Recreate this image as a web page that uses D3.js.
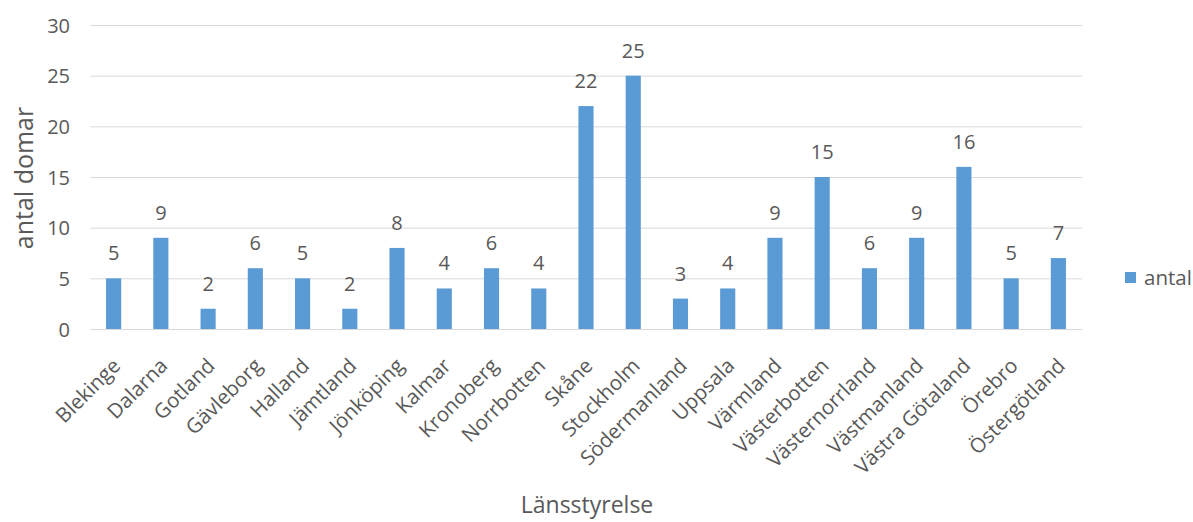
<!DOCTYPE html>
<html><head><meta charset="utf-8">
<script src="https://cdn.jsdelivr.net/npm/d3@7"></script>
<style>
html,body{margin:0;padding:0;background:#fff;}
text{font-family:"Open Sans",sans-serif;fill:#595959;}
</style></head>
<body><svg id="c" width="1193" height="522"></svg>
<script>
const categories = ["Blekinge","Dalarna","Gotland","Gävleborg","Halland","Jämtland","Jönköping","Kalmar","Kronoberg","Norrbotten","Skåne","Stockholm","Södermanland","Uppsala","Värmland","Västerbotten","Västernorrland","Västmanland","Västra Götaland","Örebro","Östergötland"];
const antal = [5,9,2,6,5,2,8,4,6,4,22,25,3,4,9,15,6,9,16,5,7];
const yTicks = [0,5,10,15,20,25,30];
const seriesName = "antal";
const yTitle = "antal domar";
const xTitle = "Länsstyrelse";

const svg = d3.select("#c");
const L = 90, R = 1082, T = 25, B = 329;
const x = d3.scaleBand().domain(categories).range([L, R]).paddingInner(0.68).paddingOuter(0.34);
const y = d3.scaleLinear().domain([0, 30]).range([B, T]);

// gridlines
svg.append("g").selectAll("line").data(yTicks).join("line")
  .attr("x1", L).attr("x2", R)
  .attr("y1", d => y(d) + 0.5).attr("y2", d => y(d) + 0.5)
  .attr("stroke", "#d9d9d9").attr("stroke-width", 1);

// y axis labels
const yAxis = d3.axisLeft(y).tickValues(yTicks).tickSize(0).tickPadding(0);
const gy = svg.append("g").attr("transform", `translate(${L - 20},0)`).call(yAxis);
gy.select(".domain").remove();
gy.selectAll("text").style("font-size", "20px").attr("fill", "#595959").style("font-family", '"Open Sans",sans-serif').attr("dy", "0.36em");

// bars
const color = "#5b9bd5";
svg.append("g").selectAll("rect").data(antal).join("rect")
  .attr("x", (d, i) => x(categories[i]))
  .attr("width", x.bandwidth())
  .attr("y", d => y(d))
  .attr("height", d => B - y(d))
  .attr("fill", color);

// data labels
svg.append("g").selectAll("text").data(antal).join("text")
  .attr("x", (d, i) => x(categories[i]) + x.bandwidth() / 2)
  .attr("y", d => y(d) - 18)
  .attr("text-anchor", "middle")
  .style("font-size", "20px")
  .text(d => d);

// x axis labels
const xAxis = d3.axisBottom(x).tickSize(0).tickPadding(0);
const gx = svg.append("g").attr("transform", `translate(0,${B})`).call(xAxis);
gx.select(".domain").remove();
gx.selectAll(".tick text")
  .attr("y", 0).attr("dy", 0)
  .attr("text-anchor", "end")
  .attr("transform", "translate(8,38) rotate(-45)")
  .style("font-size", "20.5px")
  .attr("fill", "#595959")
  .style("font-family", '"Open Sans",sans-serif');

// axis titles
svg.append("text").attr("transform", `translate(33,178) rotate(-90)`)
  .attr("text-anchor", "middle").style("font-size", "25px").text(yTitle);
svg.append("text").attr("x", 587).attr("y", 513)
  .attr("text-anchor", "middle").style("font-size", "23px").text(xTitle);

// legend
svg.append("rect").attr("x", 1125).attr("y", 272).attr("width", 11).attr("height", 11).attr("fill", color);
svg.append("text").attr("x", 1144).attr("y", 285).style("font-size", "20.5px").text(seriesName);
</script></body></html>
